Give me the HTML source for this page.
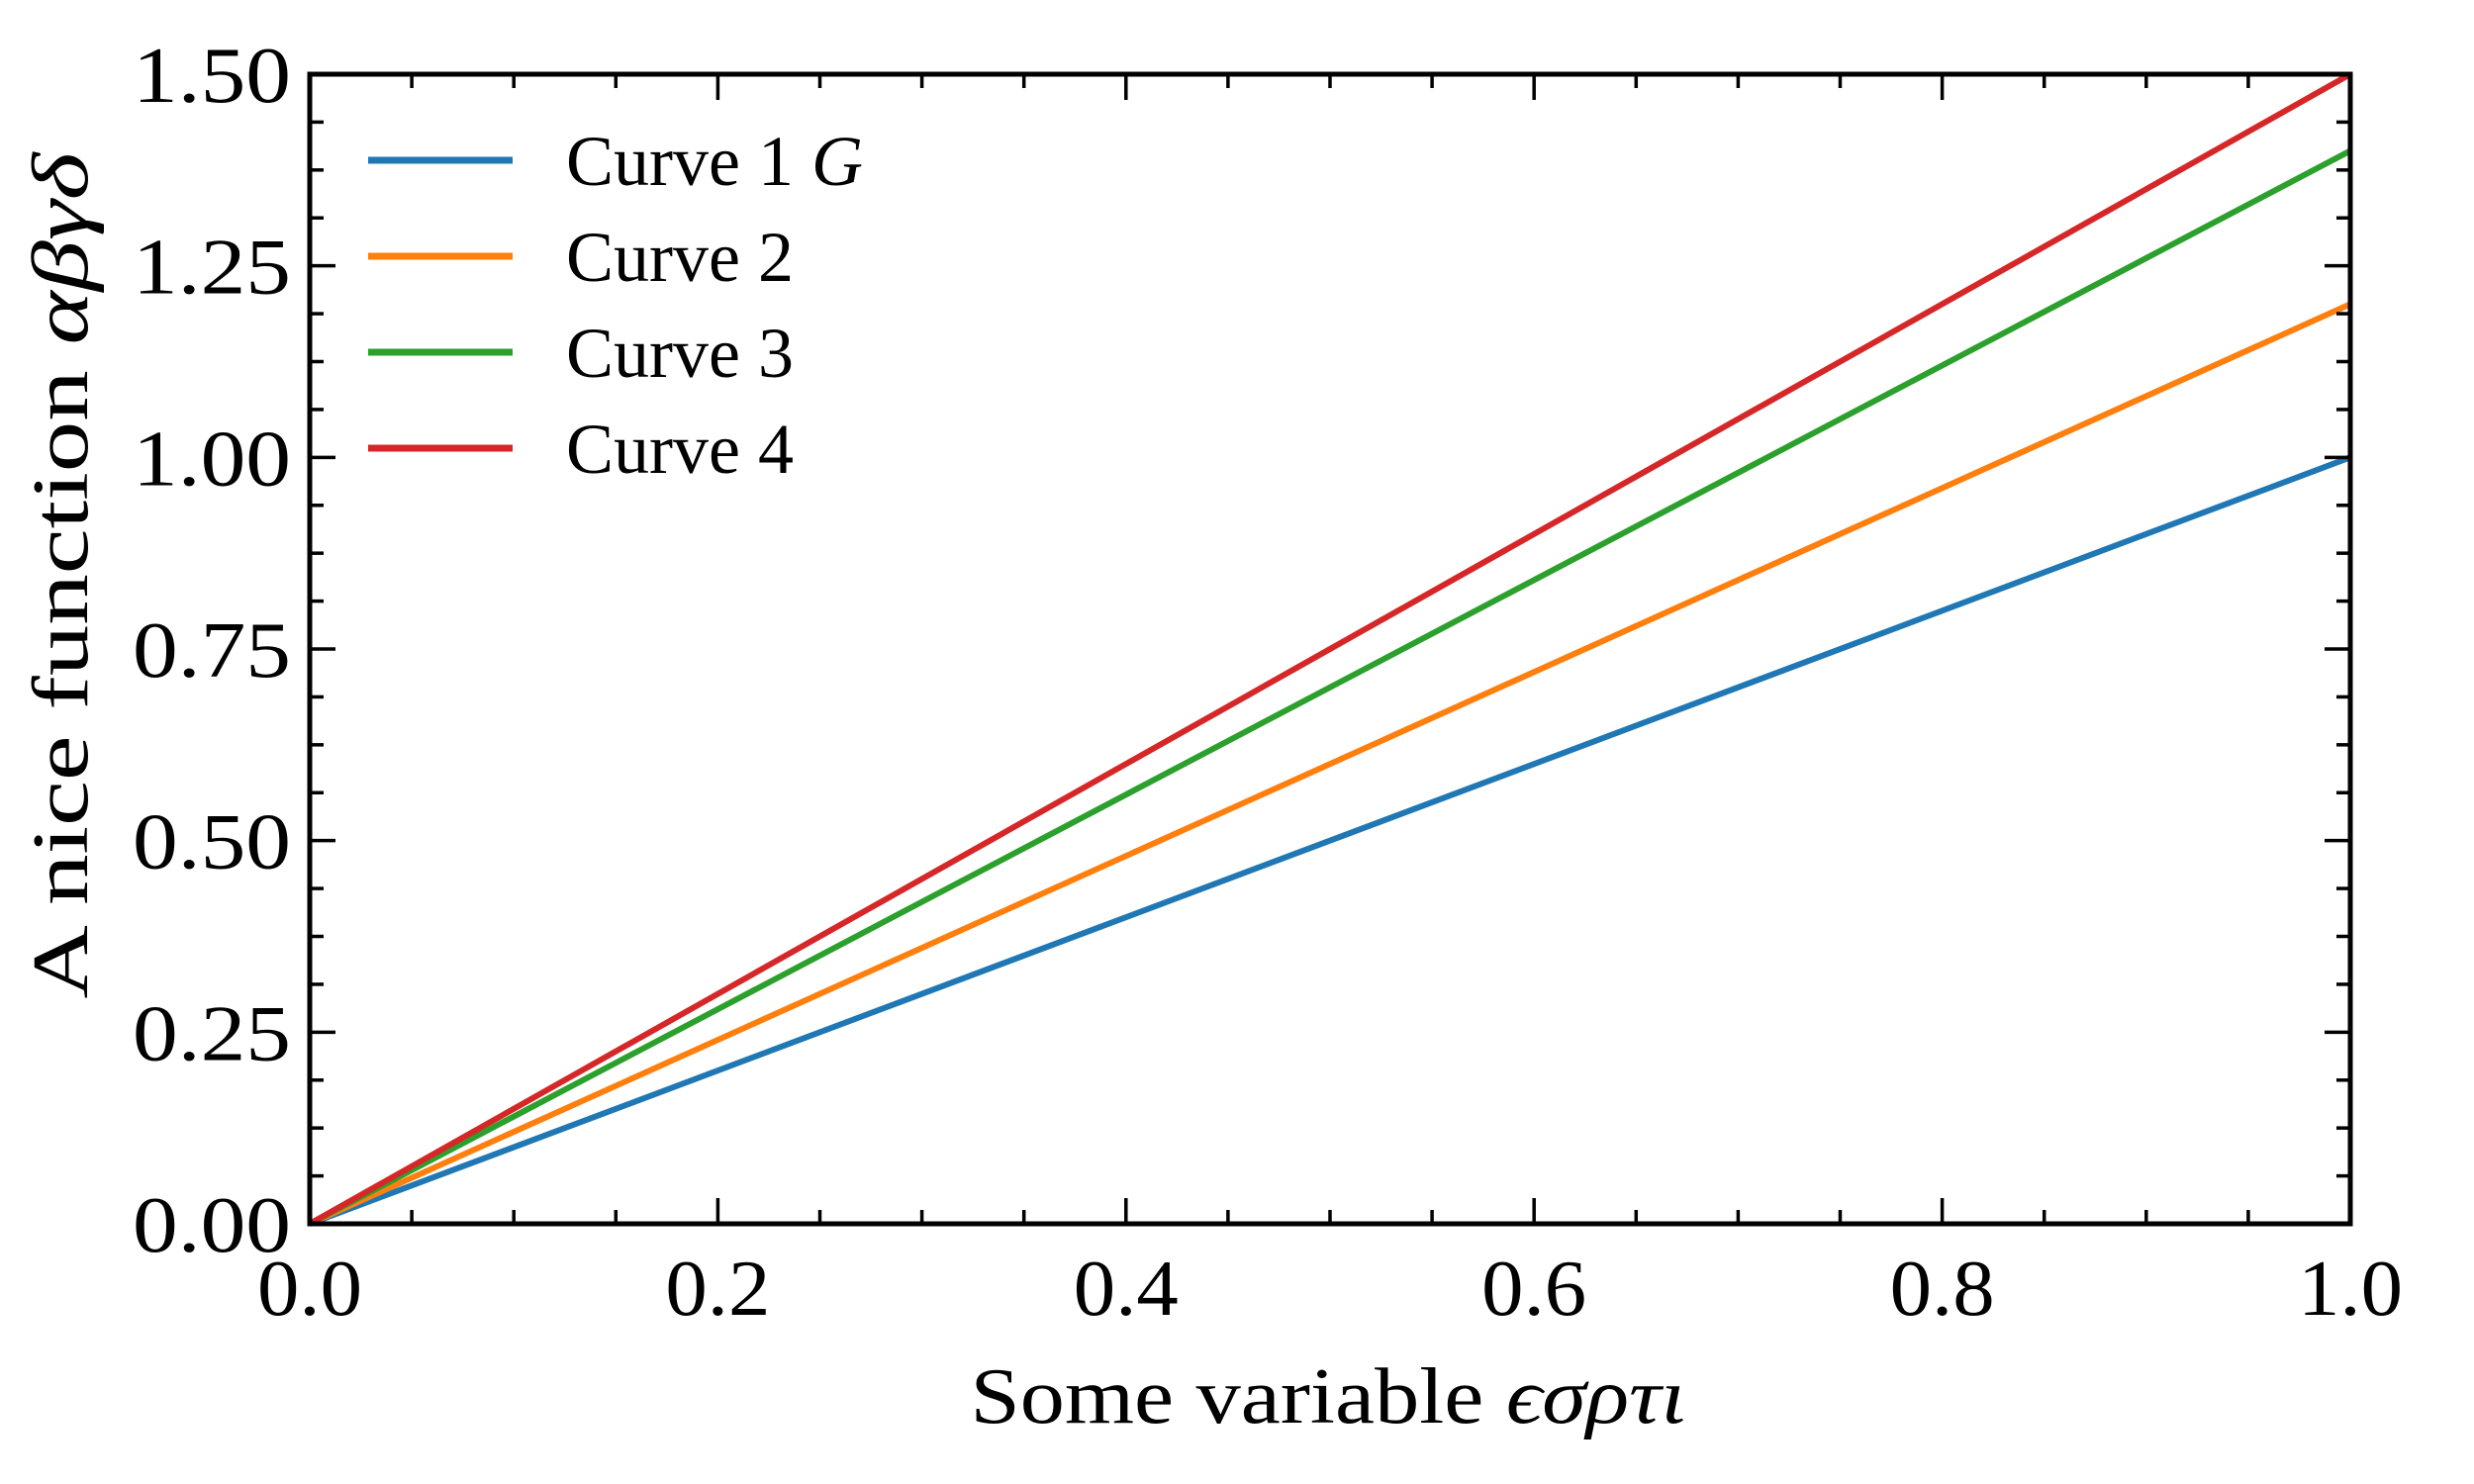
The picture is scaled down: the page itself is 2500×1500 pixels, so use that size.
<!DOCTYPE html>
<html><head><meta charset="utf-8"><style>
html,body{margin:0;padding:0;background:#fff;}
svg{display:block;font-family:"Liberation Serif",serif;}
</style></head><body>
<svg id="chart" width="2500" height="1500" viewBox="0 0 2500 1500" xmlns="http://www.w3.org/2000/svg">
<rect width="2500" height="1500" fill="#fff"/>
<g id="marks"></g>
<g id="ticks"></g>
<rect x="313" y="75" width="2062" height="1162" fill="none" stroke="#000" stroke-width="5"/>
<g id="labels"></g>
<text x="1342" y="1438" font-size="80" text-anchor="middle" textLength="723" lengthAdjust="spacingAndGlyphs">Some variable <tspan font-style="italic">ϵσρτι</tspan></text>
<text transform="translate(88,582) rotate(-90)" font-size="80" text-anchor="middle" textLength="855" lengthAdjust="spacingAndGlyphs">A nice function <tspan font-style="italic">αβγδ</tspan></text>
<g id="legend"></g>
</svg>
<script>
const xValues = [0, 1];
const seriesNames = ["Curve 1 ", "Curve 2", "Curve 3", "Curve 4"];
const series1 = [0, 1.0];
const series2 = [0, 1.2];
const series3 = [0, 1.4];
const series4 = [0, 1.5];
const xTickLabels = ["0.0","0.2","0.4","0.6","0.8","1.0"];
const yTickLabels = ["0.00","0.25","0.50","0.75","1.00","1.25","1.50"];

const colors = ["#1f77b4","#ff7f0e","#2ca02c","#d62728"];
const L=313,R=2375,T=75,B=1237, xMin=0,xMax=1,yMin=0,yMax=1.5;
const sx=v=>L+(v-xMin)/(xMax-xMin)*(R-L);
const sy=v=>B-(v-yMin)/(yMax-yMin)*(B-T);
const NS="http://www.w3.org/2000/svg";
function mk(tag,attrs,parent){const e=document.createElementNS(NS,tag);for(const k in attrs)e.setAttribute(k,attrs[k]);parent.appendChild(e);return e;}
const marks=document.getElementById('marks');
[series1,series2,series3,series4].forEach((s,i)=>{
  const d=s.map((v,j)=>(j?'L':'M')+sx(xValues[j])+','+sy(v)).join(' ');
  const p=mk('path',{d:d,fill:'none',stroke:colors[i],'stroke-width':6},marks);
  
  
});
const ticks=document.getElementById('ticks');
const labels=document.getElementById('labels');
function tick(x1,y1,x2,y2,name){const t=mk('line',{x1,y1,x2,y2,stroke:'#000','stroke-width':3.5},ticks);
  
  }
for(let i=0;i<=20;i++){const v=i*0.05,x=sx(v),len=(i%4===0)?26:14;
  tick(x,B,x,B-len,'x-tick');tick(x,T,x,T+len,'x-tick-top');}
for(let i=0;i<=24;i++){const v=i*0.0625,y=sy(v),len=(i%4===0)?26:14;
  tick(L,y,L+len,y,'y-tick');tick(R,y,R-len,y,'y-tick-right');}
xTickLabels.forEach((s,i)=>{const t=mk('text',{x:sx(i*0.2),y:1329,'font-size':80,'text-anchor':'middle',textLength:106,lengthAdjust:'spacingAndGlyphs'},labels);t.textContent=s;
  
  });
yTickLabels.forEach((s,i)=>{const t=mk('text',{x:294,y:sy(i*0.25)+28,'font-size':80,'text-anchor':'end',textLength:160,lengthAdjust:'spacingAndGlyphs'},labels);t.textContent=s;
  
  });
const legend=document.getElementById('legend');
seriesNames.forEach((n,i)=>{const y=162+i*97;
  const g=mk('g',{},legend);
  
  
  mk('line',{x1:372,y1:y,x2:518,y2:y,stroke:colors[i],'stroke-width':7},g);
  const t=mk('text',{x:572,y:y+25,'font-size':72},g);t.textContent=n;
  if(i===0){const ts=mk('tspan',{'font-style':'italic'},t);ts.textContent='G';}
});
</script>
</body></html>
